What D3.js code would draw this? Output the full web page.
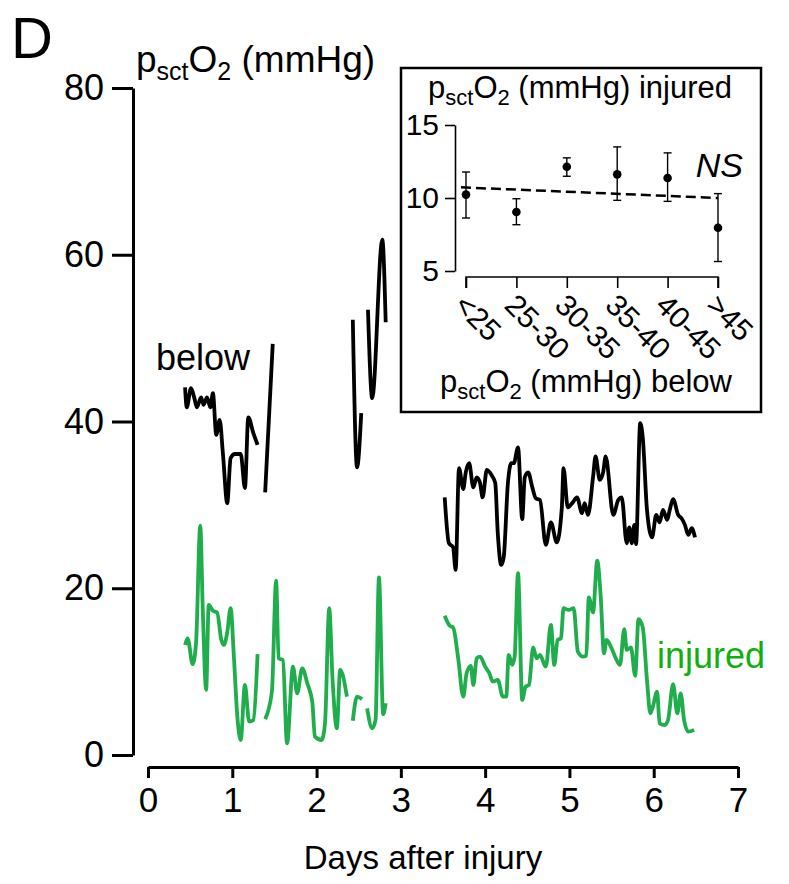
<!DOCTYPE html>
<html>
<head>
<meta charset="utf-8">
<script src="https://cdn.jsdelivr.net/npm/d3@7"></script>
<style>
  body { margin: 0; background: #fff; }
  svg { font-family: "Liberation Sans", Arial, sans-serif; }
</style>
</head>
<body>
<div id="chart"></div>
<script>
// ---- main traces (null = gap in recording) ----
var belowDays = [0.44, 0.46, 0.51, 0.55, 0.58, 0.63, 0.66, 0.70, 0.74, 0.77, 0.81, 0.85, 0.89, 0.94, 0.98, 1.03, 1.10, 1.15, 1.19, 1.25, 1.30, null,
    1.39, 1.48, null,
    2.43, 2.48, 2.53, null,
    2.61, 2.66, 2.78, 2.82, null,
    3.52, 3.57, 3.62, 3.65, 3.69, 3.74, 3.77, 3.81, 3.86, 3.90, 3.94, 3.97, 4.02, 4.08, 4.12, 4.15, 4.19, 4.22, 4.27, 4.31, 4.34, 4.39, 4.44, 4.47, 4.51, 4.56, 4.60, 4.65, 4.72, 4.78, 4.85, 4.91, 4.93, 4.98, 5.04, 5.09, 5.15, 5.18, 5.22, 5.28, 5.31, 5.36, 5.40, 5.43, 5.52, 5.58, 5.62, 5.68, 5.71, 5.74, 5.77, 5.79, 5.84, 5.87, 5.92, 5.98, 6.03, 6.07, 6.11, 6.16, 6.19, 6.23, 6.29, 6.33, 6.37, 6.41, 6.45, 6.49];
var belowValues = [44.1, 41.7, 44, 42.8, 41.7, 42.9, 42, 42.9, 41.7, 43.4, 38.4, 40.2, 36, 30.2, 35.6, 36.1, 36.1, 32, 40.5, 38.6, 37.2, null,
    31.5, 49.3, null,
    52.2, 34.5, 41, null,
    53.4, 42.8, 61.8, 51.9, null,
    30.9, 25.4, 24.9, 22.2, 34.4, 31.9, 33.9, 35, 32.1, 33.3, 32.6, 30.9, 34.2, 33.5, 32.6, 26.6, 22.8, 23.7, 32.6, 35, 35, 36.9, 28.3, 33.3, 33.9, 32.1, 30.8, 30.6, 25.2, 27.9, 25.5, 29.7, 34.4, 29.7, 30.3, 30.9, 29, 30.2, 28.8, 33.3, 35.8, 33, 33.9, 35.8, 28.8, 30.6, 30.9, 25.4, 27.3, 25.4, 27.6, 25.3, 39.8, 38.1, 29.4, 26.1, 28.8, 27.9, 29.4, 28.2, 29.4, 30.7, 28.8, 28.4, 27.6, 26.4, 27.2, 26.1];

var injuredDays = [0.44, 0.47, 0.53, 0.57, 0.62, 0.65, 0.69, 0.72, 0.77, 0.82, 0.87, 0.90, 0.94, 0.98, 1.02, 1.06, 1.10, 1.15, 1.20, 1.25, 1.30, null,
    1.39, 1.47, 1.52, 1.55, 1.60, 1.65, 1.72, 1.77, 1.83, 1.89, 1.95, 1.98, 2.06, 2.10, 2.15, 2.19, 2.24, 2.28, 2.36, null,
    2.43, 2.48, 2.54, null,
    2.60, 2.66, 2.70, 2.74, 2.79, 2.82, null,
    3.52, 3.58, 3.62, 3.68, 3.74, 3.78, 3.83, 3.86, 3.90, 3.94, 4.00, 4.05, 4.09, 4.15, 4.21, 4.25, 4.28, 4.32, 4.35, 4.39, 4.44, 4.48, 4.52, 4.57, 4.61, 4.65, 4.72, 4.78, 4.82, 4.86, 4.90, 4.93, 4.99, 5.05, 5.10, 5.16, 5.20, 5.23, 5.28, 5.33, 5.37, 5.41, 5.44, 5.50, 5.55, 5.60, 5.65, 5.68, 5.73, 5.78, 5.82, 5.87, 5.92, 5.96, 5.99, 6.04, 6.07, 6.13, 6.17, 6.23, 6.28, 6.32, 6.36, 6.41, 6.48];
var injuredValues = [13.2, 14, 10.9, 13.4, 27.5, 17.4, 7.8, 18, 17.3, 17.1, 13.8, 13.2, 14.7, 17.6, 11.6, 4.6, 1.8, 8.4, 4, 4.2, 12.1, null,
    4.3, 7.6, 20.9, 11.6, 11.4, 1.4, 10.6, 7.4, 10.4, 8.6, 6.3, 2.2, 1.8, 3.8, 17.6, 9, 3.2, 10.2, 7, null,
    4.1, 7, 6.7, null,
    5.6, 3.2, 4.2, 21.3, 4.9, 6.2, null,
    16.7, 15.5, 15.3, 11.6, 7, 9.8, 10.7, 8.4, 11.6, 11.8, 10.6, 9.8, 8.8, 9, 7, 7, 12, 10.8, 11.8, 21.8, 6.6, 8.2, 8.4, 12.9, 11.6, 12, 10.6, 15.6, 10.8, 13.8, 14, 17.6, 17.4, 17.6, 12.4, 11.8, 11.9, 18.9, 17.1, 23.3, 19.2, 12.2, 13.8, 12.8, 11.6, 10.8, 15.1, 12.6, 12.9, 9.5, 16.3, 15.3, 9, 5, 5.8, 7.6, 3.8, 3.6, 4.2, 8.5, 5, 7.4, 4.2, 2.8, 3];

var xTicks = [0, 1, 2, 3, 4, 5, 6, 7];
var yTicks = [0, 20, 40, 60, 80];

// ---- inset: injured pO2 binned by below pO2 ----
var binLabels = ['<25', '25-30', '30-35', '35-40', '40-45', '>45'];
var binMeans = [10.23, 9.04, 12.14, 11.62, 11.37, 7.96];
var binUpper = [11.78, 9.95, 12.75, 13.5, 13.09, 10.3];
var binLower = [8.63, 8.17, 11.49, 9.84, 9.77, 5.65];
var trendIndex = [-0.1, 5];
var trendValues = [10.73, 10.0];
var insetYTicks = [5, 10, 15];

var black = '#000';
var green = '#1fae4b';
var greenText = '#10b010';

var svg = d3.select('#chart').append('svg')
    .attr('width', 789)
    .attr('height', 884);

var x = d3.scaleLinear().domain([0, 7]).range([148, 738]);
var y = d3.scaleLinear().domain([0, 80]).range([755, 88]);

/**
 * axis styling shared by both plots
 */
function styleAxis(g, width, fontSize) {
    g.selectAll('path, line').attr('stroke', black).attr('stroke-width', width);
    g.selectAll('text').attr('fill', black).style('font-size', fontSize + 'px')
        .style('font-family', '"Liberation Sans", Arial, sans-serif');
}

// y axis
var yAxis = svg.append('g')
    .attr('transform', 'translate(133,0)')
    .call(d3.axisLeft(y).tickValues(yTicks).tickSize(21).tickSizeOuter(0).tickPadding(8));
styleAxis(yAxis, 3, 36);

// x axis, offset below the plot
var xAxis = svg.append('g')
    .attr('transform', 'translate(0,767)')
    .call(d3.axisBottom(x).tickValues(xTicks).tickFormat(d3.format('d'))
        .tickSize(11).tickSizeOuter(0).tickPadding(9));
styleAxis(xAxis, 3, 35);
xAxis.selectAll('text').attr('dy', '0.71em');

function makeSeries(days, values) {
    return days.map(function (d, i) {
        return {day: d, value: values[i]};
    });
}

var line = d3.line()
    .defined(function (d) { return d.day !== null && d.value !== null; })
    .x(function (d) { return x(d.day); })
    .y(function (d) { return y(d.value); })
    .curve(d3.curveMonotoneX);

svg.append('path')
    .datum(makeSeries(belowDays, belowValues))
    .attr('fill', 'none')
    .attr('stroke', black)
    .attr('stroke-width', 3.8)
    .attr('stroke-linejoin', 'round')
    .attr('d', line);

svg.append('path')
    .datum(makeSeries(injuredDays, injuredValues))
    .attr('fill', 'none')
    .attr('stroke', green)
    .attr('stroke-width', 3.8)
    .attr('stroke-linejoin', 'round')
    .attr('d', line);

// labels
svg.append('text').attr('x', 11).attr('y', 58).style('font-size', '58px').text('D');

var yTitle = svg.append('text').attr('x', 136).attr('y', 72).style('font-size', '37px');
yTitle.append('tspan').text('p');
yTitle.append('tspan').attr('dy', 8).style('font-size', '25px').text('sct');
yTitle.append('tspan').attr('dy', -8).text('O');
yTitle.append('tspan').attr('dy', 8).style('font-size', '25px').text('2');
yTitle.append('tspan').attr('dy', -8).text(' (mmHg)');

svg.append('text').attr('x', 423).attr('y', 869).attr('text-anchor', 'middle')
    .style('font-size', '33px').text('Days after injury');

svg.append('text').attr('x', 156).attr('y', 370).style('font-size', '36px').text('below');
svg.append('text').attr('x', 657).attr('y', 668).style('font-size', '36px')
    .attr('fill', greenText).text('injured');

// ---- inset ----
var inset = svg.append('g');

inset.append('rect')
    .attr('x', 401).attr('y', 68).attr('width', 360).attr('height', 344)
    .attr('fill', '#fff').attr('stroke', black).attr('stroke-width', 2.5);

var ix = d3.scalePoint().domain(binLabels).range([466, 718]);
var iy = d3.scaleLinear().domain([5, 15]).range([271, 125]);
var ixIndex = d3.scaleLinear().domain([0, binLabels.length - 1]).range([466, 718]);

var iyAxis = inset.append('g')
    .attr('transform', 'translate(455,0)')
    .call(d3.axisLeft(iy).tickValues(insetYTicks).tickSize(10).tickSizeOuter(0).tickPadding(6));
styleAxis(iyAxis, 1.6, 30);

var ixAxis = inset.append('g')
    .attr('transform', 'translate(0,277)')
    .call(d3.axisBottom(ix).tickSize(11).tickSizeOuter(0));
styleAxis(ixAxis, 1.6, 30);
ixAxis.select('.domain').attr('d', 'M466,11V0H718V11');
ixAxis.selectAll('.tick text')
    .attr('text-anchor', 'start')
    .attr('x', 0).attr('y', 0).attr('dy', 0)
    .attr('transform', 'translate(-14,30) rotate(45)');

var bins = binLabels.map(function (b, i) {
    return {label: b, mean: binMeans[i], hi: binUpper[i], lo: binLower[i]};
});

var bar = inset.selectAll('.err')
    .data(bins)
    .enter().append('g')
    .attr('class', 'err');

bar.append('line')
    .attr('x1', function (d) { return ix(d.label); })
    .attr('x2', function (d) { return ix(d.label); })
    .attr('y1', function (d) { return iy(d.hi); })
    .attr('y2', function (d) { return iy(d.lo); })
    .attr('stroke', black).attr('stroke-width', 1.4);

bar.selectAll('.cap')
    .data(function (d) { return [{label: d.label, v: d.hi}, {label: d.label, v: d.lo}]; })
    .enter().append('line')
    .attr('x1', function (d) { return ix(d.label) - 4; })
    .attr('x2', function (d) { return ix(d.label) + 4; })
    .attr('y1', function (d) { return iy(d.v); })
    .attr('y2', function (d) { return iy(d.v); })
    .attr('stroke', black).attr('stroke-width', 1.4);

bar.append('circle')
    .attr('cx', function (d) { return ix(d.label); })
    .attr('cy', function (d) { return iy(d.mean); })
    .attr('r', 4.3)
    .attr('fill', black);

inset.append('path')
    .datum(trendIndex.map(function (t, i) { return {t: t, v: trendValues[i]}; }))
    .attr('fill', 'none')
    .attr('stroke', black)
    .attr('stroke-width', 2.5)
    .attr('stroke-dasharray', '10,5')
    .attr('d', d3.line()
        .x(function (d) { return ixIndex(d.t); })
        .y(function (d) { return iy(d.v); }));

inset.append('text').attr('x', 743).attr('y', 177).attr('text-anchor', 'end')
    .style('font-size', '34px').style('font-style', 'italic').text('NS');

function subLabel(xPos, yPos, tail) {
    var t = inset.append('text').attr('x', xPos).attr('y', yPos).style('font-size', '31px');
    t.append('tspan').text('p');
    t.append('tspan').attr('dy', 7).style('font-size', '22px').text('sct');
    t.append('tspan').attr('dy', -7).text('O');
    t.append('tspan').attr('dy', 7).style('font-size', '22px').text('2');
    t.append('tspan').attr('dy', -7).text(tail);
}
subLabel(428, 98, ' (mmHg) injured');
subLabel(440, 392, ' (mmHg) below');
</script>
</body>
</html>
